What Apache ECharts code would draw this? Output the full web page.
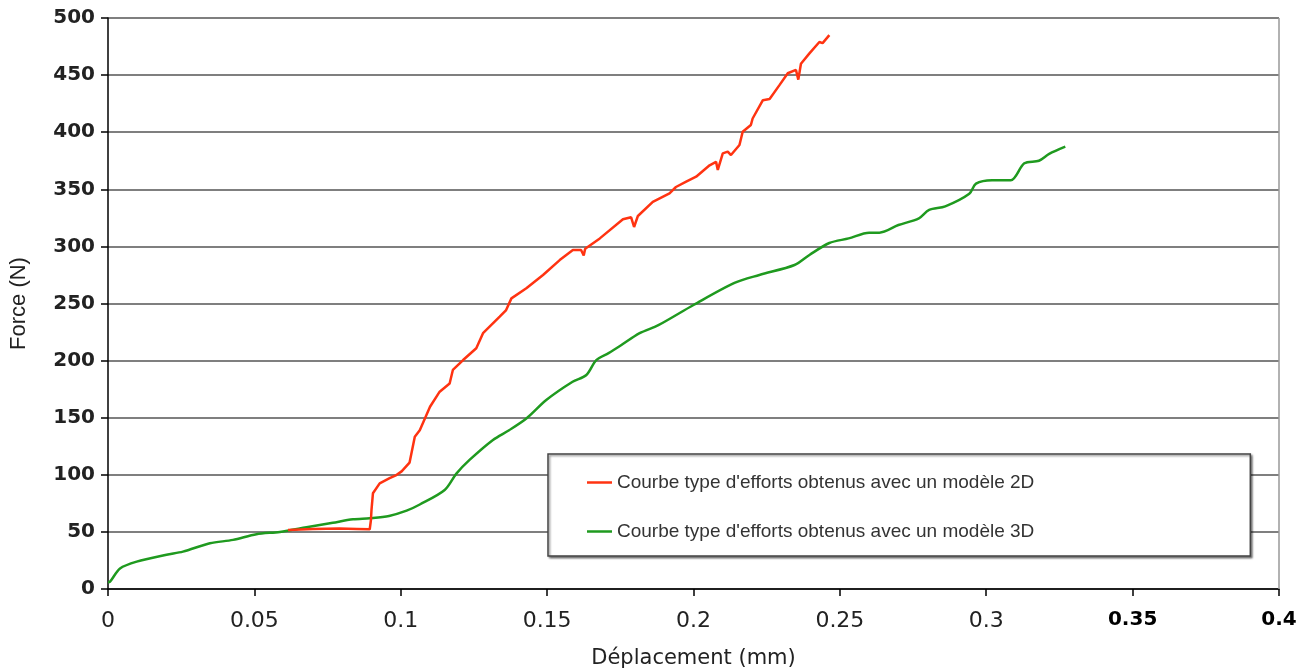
<!DOCTYPE html>
<html>
<head>
<meta charset="utf-8">
<script src="https://cdn.jsdelivr.net/npm/echarts@6/dist/echarts.min.js"></script>
<style>
  html, body { margin: 0; padding: 0; background: #fff; }
  #main { width: 1307px; height: 671px; }
</style>
</head>
<body>
<div id="main"></div>
<script>
// courbe 2D (rouge) : [déplacement mm, force N]
var courbe2D = [
	[0.0615, 51.7], [0.070, 52.5], [0.079, 53], [0.085, 52.6], [0.0894, 52.3],
	[0.0898, 60], [0.090, 69], [0.0905, 83.8], [0.0928, 92.5], [0.0962, 97],
	[0.0985, 99.8], [0.1003, 103], [0.103, 110.6], [0.1048, 133.4], [0.1065, 139],
	[0.110, 159.6], [0.1133, 172.8], [0.1167, 180], [0.1178, 191.8], [0.1213, 200.5],
	[0.1258, 210.8], [0.1281, 224], [0.1338, 238.5], [0.136, 244.3], [0.1378, 254.5],
	[0.1429, 263.3], [0.1486, 275], [0.1543, 288], [0.1588, 296.8], [0.1616, 296.8],
	[0.1625, 292], [0.163, 298], [0.168, 307], [0.1759, 323.7], [0.1787, 325.5],
	[0.1797, 317], [0.181, 326.6], [0.1861, 339], [0.1918, 346.5], [0.194, 352],
	[0.1975, 356.7], [0.2009, 361], [0.2055, 371], [0.2077, 374], [0.2083, 367],
	[0.210, 381.5], [0.2117, 383], [0.2128, 380], [0.2157, 388.8], [0.2168, 400.4],
	[0.2196, 406.3], [0.2202, 412], [0.2237, 428], [0.226, 429], [0.2293, 441],
	[0.2322, 451.6], [0.235, 454.5], [0.2358, 446], [0.2367, 460], [0.2396, 469],
	[0.243, 479], [0.2441, 478], [0.2464, 485]
];
// courbe 3D (verte)
var courbe3D = [
	[0, 6], [0.0007, 6.4], [0.0041, 18], [0.0098, 24], [0.020, 30], [0.0256, 32.7],
	[0.0348, 40], [0.0427, 43], [0.0507, 48], [0.0587, 50], [0.0678, 54],
	[0.0768, 58], [0.0837, 61], [0.0894, 62], [0.096, 64], [0.102, 68.6],
	[0.1065, 74], [0.115, 86.7], [0.119, 101], [0.1235, 113], [0.1315, 130.5],
	[0.137, 139], [0.143, 149.5], [0.1497, 165.5], [0.1587, 181.5], [0.1634, 187.4],
	[0.1668, 200.5], [0.171, 206.6], [0.175, 213], [0.1816, 224], [0.188, 231],
	[0.200, 248.7], [0.214, 268], [0.2225, 275], [0.2345, 283.7], [0.2396, 292.5],
	[0.2464, 303], [0.253, 307], [0.260, 312], [0.2635, 312], [0.270, 318.7],
	[0.277, 324.6], [0.2805, 332], [0.286, 335], [0.2942, 346], [0.2965, 355],
	[0.302, 358], [0.3084, 358], [0.313, 372.8], [0.318, 375], [0.3215, 381],
	[0.327, 387.3]
];
var nomsSeries = [
	"Courbe type d'efforts obtenus avec un modèle 2D",
	"Courbe type d'efforts obtenus avec un modèle 3D"
];

var chart = echarts.init(document.getElementById('main'));
var option = {
	animation: false,
	backgroundColor: '#fff',
	grid: { left: 108, right: 28, top: 18, bottom: 82, outerBoundsMode: 'none', containLabel: false },
	legend: {
		orient: 'vertical',
		left: 548,
		top: 454,
		padding: [19, 216, 15, 39],
		itemGap: 30,
		itemWidth: 25,
		itemHeight: 14,
		backgroundColor: '#fff',
		borderColor: '#444',
		borderWidth: 1.5,
		shadowColor: 'rgba(0,0,0,0.45)',
		shadowBlur: 2,
		shadowOffsetX: 1.5,
		shadowOffsetY: 1.5,
		textStyle: { fontFamily: 'Liberation Sans, Arial', fontSize: 19, color: '#333' },
		data: [
			{ name: nomsSeries[0], icon: 'path://M0,0 L10,0 L10,1 L0,1 Z' },
			{ name: nomsSeries[1], icon: 'path://M0,0 L10,0 L10,1 L0,1 Z' }
		]
	},
	xAxis: {
		type: 'value',
		min: 0, max: 0.4, interval: 0.05,
		name: 'Déplacement (mm)',
		nameLocation: 'middle',
		nameGap: 59,
		nameTextStyle: { fontFamily: 'DejaVu Sans', fontSize: 21, color: '#222' },
		axisLine: { lineStyle: { color: '#000', width: 1.5 } },
		axisTick: { show: true, length: 7, lineStyle: { color: '#000', width: 1.5 } },
		splitLine: { show: false },
		axisLabel: {
			margin: 21,
			formatter: function (v) {
				var s = String(Math.round(v * 100) / 100);
				return v > 0.32 ? '{b|' + s + '}' : '{n|' + s + '}';
			},
			rich: {
				n: { fontFamily: 'DejaVu Sans', fontSize: 22, color: '#222' },
				b: { fontFamily: 'DejaVu Sans', fontWeight: 'bold', fontSize: 20, color: '#000' }
			}
		}
	},
	yAxis: {
		type: 'value',
		min: 0, max: 500, interval: 50,
		name: 'Force (N)',
		nameLocation: 'middle',
		nameGap: 78,
		nameRotate: 90,
		nameTextStyle: { fontFamily: 'Liberation Sans, Arial', fontSize: 22, color: '#222' },
		axisLine: { show: true, lineStyle: { color: '#000', width: 1.5 } },
		axisTick: { show: true, length: 7, lineStyle: { color: '#000', width: 1.5 } },
		axisLabel: { margin: 13, fontFamily: 'DejaVu Sans', fontWeight: 'bold', fontSize: 20, color: '#222' },
		splitLine: { show: true, lineStyle: { color: '#555', width: 1.5 } }
	},
	series: [
		{
			name: nomsSeries[0],
			type: 'line',
			data: courbe2D,
			showSymbol: false,
			smooth: false,
			color: '#ff3311',
			lineStyle: { width: 2.5, color: '#ff3311' },
			z: 3
		},
		{
			name: nomsSeries[1],
			type: 'line',
			data: courbe3D,
			showSymbol: false,
			smooth: 0.3,
			color: '#1f9a1f',
			lineStyle: { width: 2.5, color: '#1f9a1f' },
			z: 2
		},
		{
			// bord droit gris du tracé
			type: 'line',
			data: [[0.4, 0], [0.4, 500]],
			showSymbol: false,
			silent: true,
			lineStyle: { width: 1.5, color: '#999' },
			z: 1
		}
	]
};
chart.setOption(option);
</script>
</body>
</html>
